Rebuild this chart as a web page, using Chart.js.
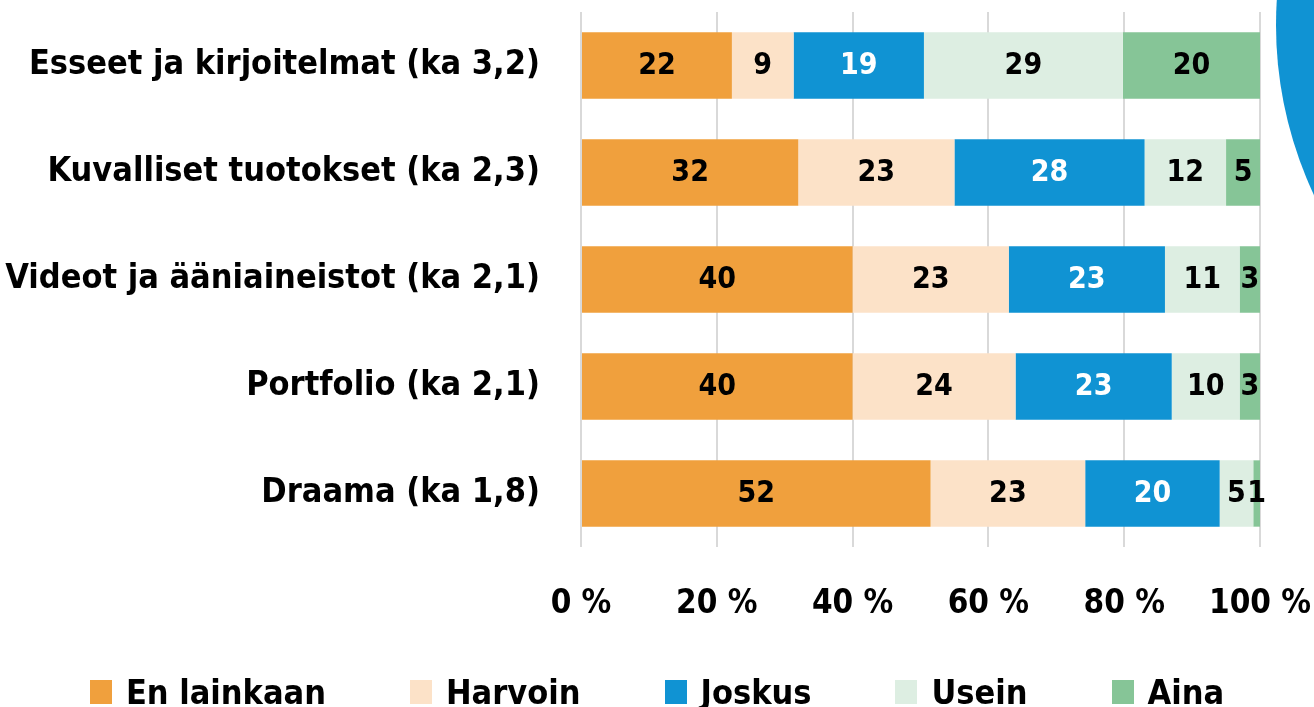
<!DOCTYPE html>
<html>
<head>
<meta charset="utf-8">
<script src="https://cdn.jsdelivr.net/npm/chart.js@4.4.1/dist/chart.umd.min.js"></script>
<style>
  html, body { margin:0; padding:0; background:#fff; overflow:hidden; }
  body { width:1314px; height:707px; position:relative; }
  #wrap { position:absolute; left:0; top:0; width:1314px; height:707px; }
  /* decorative blue shape at top right */
  .blob { position:absolute; left:1276px; top:-375px; width:800px; height:800px;
          border-radius:50%; background:#1093D3; }
  #legend { position:absolute; left:0; top:676px; width:1314px; height:32px;
            display:flex; justify-content:center; gap:84px;
            font:bold 34px 'DejaVu Sans Condensed',sans-serif; color:#000; }
  .lg-item { display:flex; align-items:center; gap:14px; line-height:32px; }
  .lg-box { width:22px; height:24px; display:inline-block; }
</style>
</head>
<body>
<div class="blob"></div>
<div id="wrap"><canvas id="chart" width="1314" height="707"></canvas></div>
<div id="legend"></div>
<script>
/* ---------- data ---------- */
const categories = [
  'Esseet ja kirjoitelmat (ka 3,2)',
  'Kuvalliset tuotokset (ka 2,3)',
  'Videot ja ääniaineistot (ka 2,1)',
  'Portfolio (ka 2,1)',
  'Draama (ka 1,8)'
];
const seriesNames = ['En lainkaan', 'Harvoin', 'Joskus', 'Usein', 'Aina'];
const seriesColors = ['#F0A03D', '#FCE2C8', '#1093D3', '#DDEEE2', '#86C597'];
const labelColors = ['#000', '#000', '#fff', '#000', '#000'];

const enLainkaan = [22, 32, 40, 40, 52];
const harvoin    = [9, 23, 23, 24, 23];
const joskus     = [19, 28, 23, 23, 20];
const usein      = [29, 12, 11, 10, 5];
const aina       = [20, 5, 3, 3, 1];
const seriesValues = [enLainkaan, harvoin, joskus, usein, aina];

const xTicks = [0, 20, 40, 60, 80, 100];

const FONT = "'DejaVu Sans Condensed',sans-serif";

/* 100 % stacked: each row scaled to its own sum */
const rowSums = categories.map((_, r) => seriesValues.reduce((s, arr) => s + arr[r], 0));

const datasets = seriesNames.map((name, i) => ({
  label: name,
  data: seriesValues[i].map((v, r) => v / rowSums[r] * 100),
  raw: seriesValues[i],
  backgroundColor: seriesColors[i],
  borderWidth: 0,
  barPercentage: 0.62,
  categoryPercentage: 1
}));

/* ---------- value labels in the bars ---------- */
const barLabels = {
  id: 'barLabels',
  afterDatasetsDraw(chart){
    const ctx = chart.ctx;
    ctx.save();
    ctx.font = 'bold 30px ' + FONT;
    ctx.textAlign = 'center';
    ctx.textBaseline = 'middle';
    chart.data.datasets.forEach((ds, i) => {
      const meta = chart.getDatasetMeta(i);
      ctx.fillStyle = labelColors[i];
      meta.data.forEach((bar, r) => {
        const cx = (bar.x + bar.base) / 2;
        ctx.fillText(String(ds.raw[r]), cx, bar.y + 1);
      });
    });
    ctx.restore();
  }
};

new Chart(document.getElementById('chart'), {
  type: 'bar',
  data: { labels: categories, datasets },
  options: {
    indexAxis: 'y',
    responsive: false,
    animation: false,
    layout: { padding: { top: 12, right: 54, bottom: 0, left: 0 } },
    plugins: { legend: { display: false }, tooltip: { enabled: false } },
    scales: {
      x: {
        stacked: true,
        min: 0, max: 100,
        afterBuildTicks: (scale) => { scale.ticks = xTicks.map(v => ({ value: v })); },
        afterFit: (scale) => {
          scale.height = 160;
          scale.paddingLeft = 0; scale.paddingRight = 0;
        },
        grid: { color: '#D9D9D9', lineWidth: 2, drawTicks: false },
        border: { display: false },
        ticks: {
          padding: 38,
          color: '#000',
          font: { family: FONT, size: 33, weight: 'bold' },
          callback: (v) => v + ' %'
        }
      },
      y: {
        stacked: true,
        afterFit: (scale) => {
          scale.width = 581;
          scale.paddingTop = 0; scale.paddingBottom = 0;
        },
        grid: { display: false, drawTicks: false },
        border: { display: false },
        ticks: {
          padding: 41,
          color: '#000',
          font: { family: FONT, size: 34, weight: 'bold' }
        }
      }
    }
  },
  plugins: [barLabels]
});

/* ---------- legend ---------- */
const legendEl = document.getElementById('legend');
seriesNames.forEach((name, i) => {
  const item = document.createElement('div');
  item.className = 'lg-item';
  item.innerHTML = '<span class="lg-box" style="background:' + seriesColors[i] + '"></span><span>' + name + '</span>';
  legendEl.appendChild(item);
});
</script>
</body>
</html>
